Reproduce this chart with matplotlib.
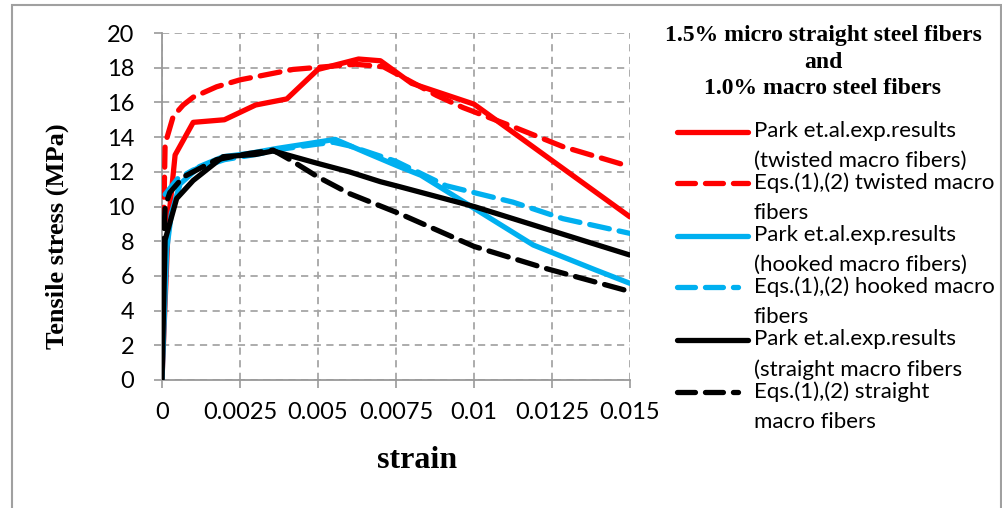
import matplotlib
matplotlib.use("Agg")
import matplotlib.pyplot as plt
from matplotlib.lines import Line2D
from matplotlib.patches import Rectangle

# strain / stress readings (MPa)
twist_exp_x = [0, 0.0002, 0.00042, 0.001, 0.002, 0.003, 0.004, 0.005, 0.0063, 0.007, 0.008, 0.01, 0.015]
twist_exp_y = [0, 9.0, 12.97, 14.85, 15.0, 15.85, 16.2, 17.9, 18.5, 18.4, 17.1, 15.9, 9.4]

twist_eq_x = [0.00005, 0.0001, 0.00036, 0.00068, 0.001, 0.00175, 0.0025, 0.00335, 0.0042, 0.0052, 0.0062,
              0.0071, 0.0088, 0.00965, 0.01125, 0.01285, 0.015]
twist_eq_y = [8.8, 13.6, 15.2, 15.85, 16.3, 16.9, 17.3, 17.6, 17.9, 18.05, 18.2, 18.05, 16.4, 15.7, 14.6,
              13.45, 12.3]

hook_exp_x = [0, 0.00015, 0.0003, 0.00058, 0.0012, 0.00196, 0.0028, 0.0037, 0.0046, 0.00555, 0.0066,
              0.0076, 0.0083, 0.01, 0.0119, 0.0139, 0.015]
hook_exp_y = [0, 7.5, 9.6, 11.3, 12.3, 12.87, 13.06, 13.35, 13.6, 13.87, 13.06, 12.3, 11.8, 9.9, 7.78,
              6.34, 5.57]

hook_eq_x = [0.0001, 0.0005, 0.001, 0.002, 0.003, 0.004, 0.005, 0.0055, 0.006, 0.0075, 0.0091, 0.01125,
             0.01285, 0.015]
hook_eq_y = [10.7, 11.6, 12.1, 12.7, 13.0, 13.35, 13.6, 13.7, 13.5, 12.6, 11.2, 10.25, 9.3, 8.45]

str_exp_x = [0, 0.0001, 0.00047, 0.001, 0.00196, 0.003, 0.00356, 0.005, 0.006, 0.007, 0.0076, 0.01, 0.015]
str_exp_y = [0, 8.07, 10.46, 11.5, 12.87, 13.0, 13.2, 12.48, 12.0, 11.43, 11.15, 10.0, 7.2]

str_eq_x = [0.00003, 0.0001, 0.00025, 0.00068, 0.00175, 0.0028, 0.00356, 0.0041, 0.005, 0.006, 0.0076,
            0.01, 0.0123, 0.015]
str_eq_y = [7.0, 10.0, 10.8, 11.7, 12.7, 13.06, 13.25, 12.7, 11.7, 10.75, 9.6, 7.7, 6.43, 5.1]

labels = ["Park et.al.exp.results\n(twisted macro fibers)",
          "Eqs.(1),(2) twisted macro\nfibers",
          "Park et.al.exp.results\n(hooked macro fibers)",
          "Eqs.(1),(2) hooked macro\nfibers",
          "Park et.al.exp.results\n(straight macro fibers",
          "Eqs.(1),(2) straight\nmacro fibers"]

RED = "#FF0000"
BLUE = "#00B0F0"
BLK = "#000000"
LW = 3.8
DASH = (3.8, 1.9)

fig = plt.figure(figsize=(10.02, 5.08), dpi=100)
W, H = 1002, 508
ax = fig.add_axes([162 / W, (H - 380) / H, (630 - 162) / W, (380 - 33) / H])

series = [
    (twist_exp_x, twist_exp_y, RED, "-"),
    (twist_eq_x, twist_eq_y, RED, "--"),
    (hook_exp_x, hook_exp_y, BLUE, "-"),
    (hook_eq_x, hook_eq_y, BLUE, "--"),
    (str_exp_x, str_exp_y, BLK, "-"),
    (str_eq_x, str_eq_y, BLK, "--"),
]
for xs, ys, c, ls in series:
    ln, = ax.plot(xs, ys, color=c, lw=LW, ls=ls, solid_capstyle="round",
                  solid_joinstyle="round", zorder=3)
    if ls == "--":
        ln.set_dashes(DASH)
        ln.set_dash_capstyle("round")

ax.set_xlim(0, 0.015)
ax.set_ylim(0, 20)
ax.set_xticks([0, 0.0025, 0.005, 0.0075, 0.01, 0.0125, 0.015])
ax.set_xticklabels(["0", "0.0025", "0.005", "0.0075", "0.01", "0.0125", "0.015"])
ax.set_yticks(range(0, 21, 2))
ax.grid(True, color="#A6A6A6", ls=(0, (4, 3)), lw=1.3, zorder=0)
for s in ["top", "right"]:
    ax.spines[s].set_visible(False)
for s in ["left", "bottom"]:
    ax.spines[s].set_color("#999999")
    ax.spines[s].set_linewidth(1.3)
ax.tick_params(direction="out", length=6, width=1.2, color="#999999", labelsize=17)
ax.tick_params(axis="y", pad=14)
ax.tick_params(axis="x", pad=10)
for t in ax.get_xticklabels() + ax.get_yticklabels():
    t.set_fontfamily("Lato")

fig.text(417 / W, 1 - 460 / H, "strain", ha="center", va="center",
         family="Liberation Serif", weight="bold", fontsize=23)
fig.text(57 / W, 1 - 236 / H, "Tensile stress (MPa)", ha="center", va="center", rotation=90,
         family="Liberation Serif", weight="bold", fontsize=19)

# title of legend panel
for ty, tt in [(35, "1.5% micro straight steel fibers"), (62, "and"), (89, "1.0% macro steel fibers")]:
    fig.text(823 / W, 1 - ty / H, tt, ha="center", va="center",
             family="Liberation Serif", weight="bold", fontsize=17)

# legend entries
colors = [RED, RED, BLUE, BLUE, BLK, BLK]
styles = ["-", "--", "-", "--", "-", "--"]
ends = [748, 748, 748, 738, 748, 738]
rows = [132, 183, 236, 287, 340, 392]
for lab, c, ls, xe, yy in zip(labels, colors, styles, ends, rows):
    yf = 1 - yy / H
    hl = Line2D([677 / W, xe / W], [yf, yf], transform=fig.transFigure, color=c, lw=LW,
                solid_capstyle="round")
    if ls == "--":
        hl.set_dashes((3.4, 1.9))
        hl.set_dash_capstyle("round")
    fig.add_artist(hl)
    fig.text(754 / W, yf + 11 / H, lab, ha="left", va="top", family="Lato", fontsize=16,
             linespacing=1.62)

fig.add_artist(Rectangle((12 / W, -0.1), (1001 - 12) / W, 1.1 - 5 / H, transform=fig.transFigure,
                         fill=False, edgecolor="#A0A0A0", lw=1.5))

fig.savefig("out.png", dpi=100)
